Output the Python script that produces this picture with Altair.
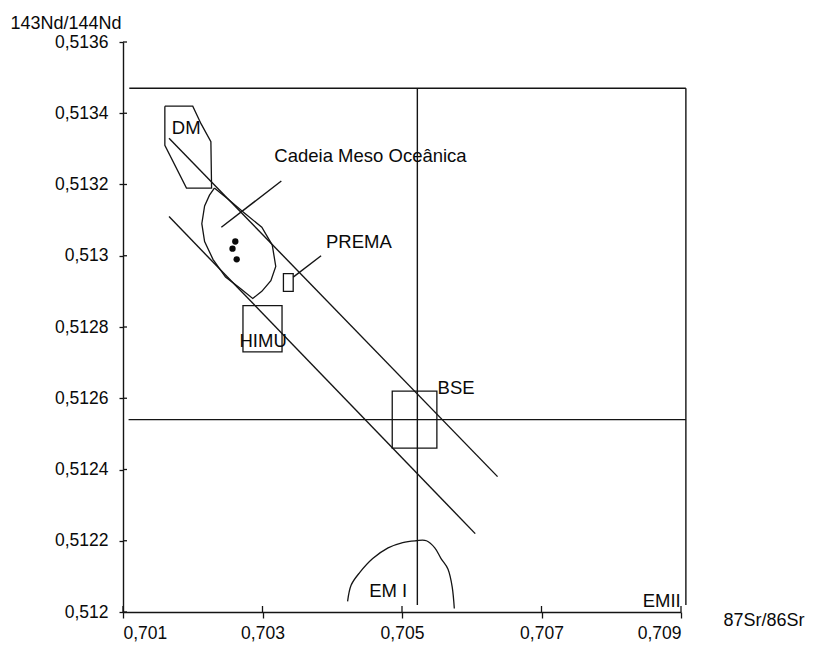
import altair as alt
import pandas as pd

# ---- axis ticks ----
X_TICKS = [0.701, 0.703, 0.705, 0.707, 0.709]
Y_TICKS = [0.5120, 0.5122, 0.5124, 0.5126, 0.5128, 0.5130, 0.5132, 0.5134, 0.5136]

# ---- straight lines: frame, BSE cross, mantle array bounds, leaders ----
seg_name = ["top", "right", "bse_v", "bse_h", "upper", "lower", "lead_morb", "lead_prema"]
seg_x1 = [0.70109, 0.70907, 0.70522, 0.70108, 0.70166, 0.70166, 0.70327, 0.70384]
seg_y1 = [0.51347, 0.51347, 0.51347, 0.51254, 0.51333, 0.51311, 0.51321, 0.51300]
seg_x2 = [0.70907, 0.70907, 0.70522, 0.70907, 0.70637, 0.70605, 0.70241, 0.70344]
seg_y2 = [0.51347, 0.51202, 0.51202, 0.51254, 0.51238, 0.51222, 0.51308, 0.51294]

# ---- DM field ----
dm_x = [0.7016, 0.7020, 0.70212, 0.70226, 0.70227, 0.70191, 0.7016, 0.7016]
dm_y = [0.51342, 0.51342, 0.51337, 0.51332, 0.51319, 0.51319, 0.51331, 0.51342]

# ---- mid-ocean ridge field ----
morb_x = [0.70231, 0.7025, 0.70274, 0.70299, 0.70314, 0.70319, 0.70312, 0.70299,
          0.70286, 0.70267, 0.70247, 0.70229, 0.70217, 0.70213, 0.70217, 0.70224, 0.70231]
morb_y = [0.51319, 0.51316, 0.51312, 0.51308, 0.51303, 0.51297, 0.51293, 0.5129,
          0.51288, 0.51291, 0.51294, 0.51299, 0.51304, 0.51309, 0.51314, 0.51317, 0.51319]

# ---- EM I field ----
em1_x = [0.70422, 0.70427, 0.70439, 0.70458, 0.7048, 0.70501, 0.7052, 0.70535,
         0.70547, 0.70556, 0.70566, 0.70572, 0.70575]
em1_y = [0.51203, 0.512075, 0.51211, 0.51215, 0.51218, 0.512195, 0.5122, 0.5122,
         0.51218, 0.51215, 0.51212, 0.51207, 0.51201]

# ---- boxes: HIMU, PREMA, BSE ----
box_x1 = [0.70272, 0.7033, 0.70486]
box_x2 = [0.70328, 0.70344, 0.7055]
box_y1 = [0.51286, 0.51295, 0.51262]
box_y2 = [0.51273, 0.5129, 0.51246]

# ---- samples ----
pt_x = [0.70261, 0.70257, 0.70263]
pt_y = [0.51304, 0.51302, 0.51299]

# ---- labels ----
lab_text = ["DM", "Cadeia Meso Oceânica", "PREMA", "HIMU", "BSE", "EM I", "EMII"]
lab_x = [0.7017, 0.70317, 0.70391, 0.70267, 0.70551, 0.70453, 0.70845]
lab_y = [0.51336, 0.51328, 0.51304, 0.51276, 0.51263, 0.51206, 0.51203]

INK = "#141414"
FONT = "Liberation Sans"

xs = alt.Scale(domain=[0.701, 0.709], nice=False, zero=False)
ys = alt.Scale(domain=[0.512, 0.5136], nice=False, zero=False)

xaxis = alt.Axis(
    values=X_TICKS, labelExpr="replace(format(datum.value, '.3f'), '.', ',')",
    title="87Sr/86Sr", titleAngle=0, titleAlign="left", titleBaseline="middle",
    titleX=600, titleY=8, titleFontSize=18, titleFontWeight="normal",
    labelFontSize=17.5, labelPadding=6, tickSize=6, grid=False,
    domainColor=INK, tickColor=INK, domainWidth=1.4, tickWidth=1.3,
)
yaxis = alt.Axis(
    values=Y_TICKS, labelExpr="replace(format(datum.value, '.4~f'), '.', ',')",
    title="143Nd/144Nd", titleAngle=0, titleAlign="left", titleBaseline="middle",
    titleX=-113, titleY=-19, titleFontSize=18, titleFontWeight="normal",
    labelFontSize=17.5, labelPadding=11, tickSize=4, grid=False,
    domainColor=INK, tickColor=INK, domainWidth=1.4, tickWidth=1.3,
)


def X(f):
    return alt.X(f, type="quantitative", scale=xs, axis=xaxis)


def Y(f):
    return alt.Y(f, type="quantitative", scale=ys, axis=yaxis)


segs = pd.DataFrame({"name": seg_name, "x": seg_x1, "y": seg_y1, "x2": seg_x2, "y2": seg_y2})
rules = alt.Chart(segs).mark_rule(color=INK, strokeWidth=1.4).encode(
    x=X("x"), y=Y("y"), x2="x2", y2="y2"
)

fields = pd.concat([
    pd.DataFrame({"field": "DM", "x": dm_x, "y": dm_y, "i": range(len(dm_x))}),
    pd.DataFrame({"field": "MORB", "x": morb_x, "y": morb_y, "i": range(len(morb_x))}),
])
outlines = alt.Chart(fields).mark_line(color=INK, strokeWidth=1.3).encode(
    x=X("x"), y=Y("y"), detail="field:N", order="i:Q"
)

em1 = pd.DataFrame({"x": em1_x, "y": em1_y, "i": range(len(em1_x))})
arc = alt.Chart(em1).mark_line(color=INK, strokeWidth=1.3, interpolate="cardinal").encode(
    x=X("x"), y=Y("y"), order="i:Q"
)

boxes = pd.DataFrame({"x": box_x1, "x2": box_x2, "y": box_y1, "y2": box_y2})
rects = alt.Chart(boxes).mark_rect(fillOpacity=0, stroke=INK, strokeWidth=1.3).encode(
    x=X("x"), x2="x2", y=Y("y"), y2="y2"
)

pts = pd.DataFrame({"x": pt_x, "y": pt_y})
dots = alt.Chart(pts).mark_point(filled=True, color="#0a0a0a", size=40, opacity=1).encode(
    x=X("x"), y=Y("y")
)

labs = pd.DataFrame({"t": lab_text, "x": lab_x, "y": lab_y})
texts = alt.Chart(labs).mark_text(
    align="left", baseline="middle", font=FONT, fontSize=18.5, color="#0a0a0a"
).encode(x=X("x"), y=Y("y"), text="t:N")

# inner halves of the tick marks, which cross the axis lines
ytk = pd.DataFrame({"y": Y_TICKS})
ytick_in = alt.Chart(ytk).mark_rule(color=INK, strokeWidth=1.3).encode(
    y=Y("y"), x=alt.value(0), x2=alt.value(4)
)
xtk = pd.DataFrame({"x": X_TICKS})
xtick_in = alt.Chart(xtk).mark_rule(color=INK, strokeWidth=1.3).encode(
    x=X("x"), y=alt.value(570), y2=alt.value(564)
)

chart = alt.layer(rules, outlines, arc, rects, dots, texts, ytick_in, xtick_in).properties(
    width=558, height=570,
    padding={"left": 123, "top": 42, "right": 135, "bottom": 46},
    autosize=alt.AutoSizeParams(type="none"),
    background="white",
).configure_view(stroke="transparent").configure_axis(
    labelFont=FONT, titleFont=FONT, labelColor="#0a0a0a", titleColor="#0a0a0a"
)

chart.save("out.html", embed_options={"renderer": "svg", "actions": False})
